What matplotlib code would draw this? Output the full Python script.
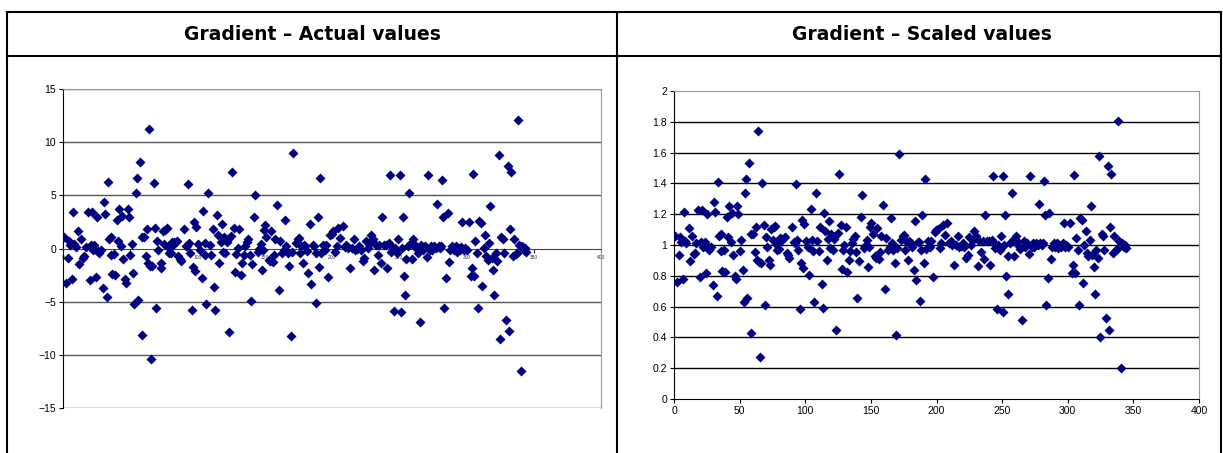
import matplotlib.pyplot as plt
from matplotlib.lines import Line2D
from matplotlib.ticker import FormatStrFormatter

# point positions (index along the sequence)
xs = [0.5, 2.5, 3.6, 4.3, 5.0, 6.6, 7.4, 8.1, 9.4, 11.2, 12.2, 13.5, 15.0, 15.7, 17.0, 18.3, 19.8, 20.8, 21.6, 22.3,
      23.4, 24.6, 25.4, 25.9, 26.9, 27.9, 29.7, 30.5, 31.0, 32.5, 33.2, 34.0, 35.5, 36.0, 36.8, 37.8, 38.6, 40.1, 41.1, 41.9,
      43.1, 44.2, 44.9, 46.2, 47.0, 48.0, 49.0, 50.0, 51.3, 52.3, 53.0, 54.3, 55.1, 55.8, 57.4, 58.4, 58.9, 59.9, 61.4, 62.4,
      63.0, 64.0, 64.5, 65.7, 66.5, 67.3, 68.5, 69.3, 69.8, 70.6, 72.6, 73.1, 74.1, 75.1, 76.1, 77.2, 77.9, 78.7, 80.0, 80.7,
      81.7, 82.5, 84.8, 85.8, 86.8, 87.8, 90.1, 91.4, 92.4, 92.9, 93.9, 94.4, 95.7, 96.4, 97.4, 98.5, 99.0, 100.3, 102.0, 103.0,
      104.0, 105.3, 105.8, 106.6, 107.9, 109.0, 110.2, 111.2, 112.4, 113.2, 114.2, 115.0, 116.2, 117.3, 118.0, 118.8, 119.8, 120.8, 121.8, 122.8,
      123.6, 124.9, 125.9, 126.9, 127.7, 128.9, 129.9, 131.0, 132.0, 133.0, 134.3, 135.5, 136.5, 137.6, 138.8, 139.6, 140.6, 142.1, 143.1, 144.7,
      145.7, 146.9, 147.7, 148.7, 149.5, 150.3, 151.3, 152.8, 153.8, 154.8, 155.9, 156.9, 157.9, 158.9, 160.4, 161.7, 163.0, 164.2, 165.2, 166.0,
      167.0, 168.0, 169.3, 170.0, 171.3, 173.1, 174.4, 175.1, 176.1, 177.2, 178.2, 179.2, 180.2, 181.2, 182.5, 183.8, 184.5, 185.8, 186.8, 187.8,
      188.3, 189.3, 190.1, 190.9, 191.9, 193.4, 194.7, 195.9, 197.2, 198.5, 199.7, 201.0, 202.3, 203.6, 204.8, 206.1, 208.1, 209.4, 210.7, 212.0,
      213.2, 214.5, 216.2, 217.3, 218.8, 220.0, 221.3, 222.8, 223.9, 225.1, 226.4, 227.7, 228.9, 230.2, 231.5, 232.7, 234.0, 235.3, 236.5, 237.3,
      238.6, 239.8, 241.1, 242.1, 243.1, 244.2, 245.2, 246.2, 247.2, 248.2, 249.2, 250.3, 251.0, 251.8, 252.5, 253.3, 254.1, 254.8, 256.3, 257.4,
      258.4, 259.4, 260.4, 261.4, 262.4, 263.9, 265.2, 266.5, 267.8, 269.0, 270.3, 271.3, 272.6, 273.6, 274.6, 275.9, 277.2, 278.4, 279.2, 280.2,
      281.2, 282.0, 282.7, 283.5, 284.8, 286.0, 287.3, 288.1, 289.3, 290.4, 291.9, 292.9, 293.7, 295.0, 296.2, 297.0, 298.0, 299.0, 300.0, 302.0,
      303.0, 303.8, 304.8, 305.6, 306.6, 307.6, 308.6, 309.6, 310.7, 311.7, 312.7, 314.0, 314.7, 315.7, 316.7, 317.8, 318.8, 319.8, 320.8, 321.8,
      322.8, 323.9, 324.9, 325.9, 326.9, 327.9, 329.2, 330.5, 331.5, 332.5, 333.0, 334.3, 335.5, 336.5, 337.6, 338.6, 339.3, 340.6, 341.6, 342.6,
      343.5, 344.5]

actual = [1.1, -3.2, -0.9, 0.75, 0.3, -2.9, 3.4, 0.4, 0.15, 1.65, -1.5, 0.9, -0.85, -0.7, 0.15, 3.45, -3.0, 0.3, 3.45, -0.15,
          0.3, -2.65, 3.0, -0.2, -0.45, -0.15, -3.7, 4.4, 3.2, -4.6, 6.3, 0.85, 1.1, -0.6, -2.4, -0.5, -2.5, 2.7, 0.75, 3.75,
          0.25, 3.1, -0.95, -2.85, -3.2, 3.75, 3.0, -0.6, 0.45, -2.3, -5.2, 5.2, 6.6, -4.8, 8.1, -8.1, 1.1, 1.1, -0.7, 1.8,
          -1.4, 11.2, -1.6, -10.4, -1.65, 6.2, 1.95, -5.55, 0.75, -0.15, -1.4, -1.85, 1.6, 0.45, 1.75, 1.9, 0.1, -0.45, -0.4, 0.65,
          0.35, 0.6, 0.75, -0.7, -0.95, -1.2, 1.8, 0.25, 0.2, 6.1, 0.5, -0.45, -5.8, -1.7, 2.45, -2.15, 2.0, 0.4, -0.15, -2.75,
          3.55, 0.5, -0.6, -5.2, 5.2, 0.35, -0.6, 1.8, -3.6, -5.75, 3.15, 1.3, -1.4, 0.6, 2.35, -0.3, 1.05, -0.45, 0.6, 0.85,
          -7.85, 1.15, 7.2, 1.95, -2.2, -0.5, 0.05, 1.8, -2.5, -1.4, -0.6, 0.2, 0.6, 0.85, -0.6, -4.9, -1.5, 3.0, 5.0, -0.3,
          -0.05, 0.45, -2.05, -0.15, 1.75, 2.2, 1.05, -1.05, -1.2, 1.65, -1.3, -0.65, 0.85, 4.1, -3.9, 0.7, -0.45, -0.15, 2.65, 0.2,
          -0.45, -1.65, -8.2, -0.3, 9.0, 0.5, 0.85, 0.95, -0.45, 0.25, -1.4, 0.35, 0.2, -0.2, -2.3, 2.3, -3.3, 0.3, 0.25, -5.1,
          -0.45, 2.95, -1.7, 6.6, -0.4, 0.35, -0.15, 0.35, -2.7, 1.25, 1.4, 1.6, -0.3, 0.2, 1.95, 1.0, 2.15, 0.15, 0.35, 0.05,
          -1.85, 0.05, 0.85, -0.15, -0.05, 0.2, -0.15, -1.2, -0.9, 0.75, 0.05, 0.45, 1.3, 0.85, -2.0, 0.35, -0.65, 0.35, -1.35, 2.95,
          0.35, 0.35, -1.85, 0.5, 6.9, -0.3, 0.05, -5.9, 0.05, -0.45, 0.85, 6.9, -6.0, 0.05, 3.0, -2.6, -4.4, -1.0, 0.2, 5.2,
          0.5, -1.0, 0.85, 0.35, 0.05, -0.4, -6.9, 0.35, -0.15, 0.2, -0.8, 6.9, -0.15, 0.2, -0.15, 0.2, 0.05, 4.2, 0.2, 0.05,
          0.2, 6.4, 2.95, -5.6, -2.8, 3.3, -1.3, -0.15, 0.2, -0.15, 0.2, -0.3, 0.05, -0.15, 0.15, 2.5, -0.15, 0.05, -0.15, 2.5,
          -2.55, -1.8, 7.0, -2.55, 0.7, -0.45, -5.6, 2.6, 2.4, -3.5, 0.05, 1.3, -0.75, -1.05, 0.5, 4.0, -0.9, -2.05, -4.4, -0.45,
          -1.2, 8.8, -8.5, 1.1, 0.85, -0.45, -6.7, 7.8, -7.8, 1.8, 7.2, -0.75, 0.85, -0.5, -0.4, 12.1, 0.35, -11.5, 0.2, -0.15,
          0.05, -0.3]

scaled = [1.06, 0.76, 0.935, 1.05, 1.02, 0.78, 1.215, 1.024, 1.01, 1.11, 0.895, 1.06, 0.94, 0.95, 1.01, 1.23, 0.79, 1.02, 1.23, 0.99,
          1.02, 0.815, 1.2, 0.987, 0.97, 0.99, 0.74, 1.28, 1.215, 0.67, 1.406, 1.056, 1.073, 0.96, 0.83, 0.966, 0.824, 1.18, 1.05, 1.25,
          1.017, 1.206, 0.933, 0.80, 0.776, 1.25, 1.2, 0.96, 1.03, 0.84, 0.63, 1.335, 1.43, 0.656, 1.535, 0.43, 1.073, 1.073, 0.953, 1.118,
          0.90, 1.742, 0.89, 0.27, 0.884, 1.40, 1.13, 0.61, 1.05, 0.99, 0.90, 0.87, 1.107, 1.03, 1.116, 1.125, 1.006, 0.97, 0.974, 1.043,
          1.024, 1.04, 1.05, 0.95, 0.933, 0.916, 1.12, 1.017, 1.013, 1.396, 1.034, 0.97, 0.583, 0.88, 1.163, 0.85, 1.135, 1.028, 0.99, 0.806,
          1.237, 1.034, 0.96, 0.63, 1.335, 1.024, 0.96, 1.12, 0.748, 0.59, 1.21, 1.088, 0.90, 1.04, 1.157, 0.98, 1.07, 0.97, 1.04, 1.056,
          0.45, 1.077, 1.46, 1.13, 0.847, 0.966, 1.002, 1.12, 0.824, 0.90, 0.96, 1.013, 1.04, 1.056, 0.957, 0.656, 0.897, 1.18, 1.323, 0.978,
          0.996, 1.03, 0.856, 0.99, 1.116, 1.146, 1.07, 0.927, 0.916, 1.11, 0.91, 0.955, 1.056, 1.26, 0.716, 1.045, 0.97, 0.99, 1.178, 1.013,
          0.97, 0.884, 0.415, 0.98, 1.594, 1.034, 1.056, 1.062, 0.97, 1.017, 0.90, 1.024, 1.013, 0.987, 0.84, 1.155, 0.77, 1.02, 1.017, 0.634,
          0.97, 1.196, 0.88, 1.428, 0.974, 1.024, 0.99, 1.024, 0.79, 1.082, 1.095, 1.105, 0.98, 1.013, 1.13, 1.067, 1.142, 1.01, 1.024, 1.002,
          0.87, 1.002, 1.056, 0.99, 0.996, 1.013, 0.99, 0.916, 0.938, 1.05, 1.002, 1.03, 1.088, 1.056, 0.862, 1.024, 0.955, 1.024, 0.907, 1.196,
          1.024, 1.024, 0.87, 1.034, 1.447, 0.98, 1.002, 0.583, 1.002, 0.97, 1.056, 1.447, 0.566, 1.002, 1.196, 0.80, 0.684, 0.93, 1.013, 1.335,
          1.034, 0.93, 1.056, 1.024, 1.002, 0.974, 0.512, 1.024, 0.99, 1.013, 0.944, 1.447, 0.99, 1.013, 0.99, 1.013, 1.002, 1.265, 1.013, 1.002,
          1.013, 1.415, 1.196, 0.61, 0.783, 1.206, 0.91, 0.99, 1.013, 0.99, 1.013, 0.98, 1.002, 0.99, 1.01, 1.142, 0.99, 1.002, 0.99, 1.142,
          0.82, 0.873, 1.454, 0.82, 1.045, 0.97, 0.61, 1.174, 1.16, 0.755, 1.002, 1.088, 0.948, 0.927, 1.034, 1.25, 0.938, 0.856, 0.684, 0.97,
          0.916, 1.578, 0.40, 1.073, 1.056, 0.97, 0.523, 1.514, 0.45, 1.12, 1.46, 0.948, 1.056, 0.966, 0.974, 1.806, 1.024, 0.20, 1.013, 0.99,
          1.002, 0.978]

titles = ["Gradient \u2013 Actual values", "Gradient \u2013 Scaled values"]
navy = "#000080"
W, H = 1223, 453

fig = plt.figure(figsize=(W / 100, H / 100), dpi=100)


def px(x0, y0, x1, y1):
    # pixel box (top-left origin) -> figure fraction rect
    return [x0 / W, 1 - y1 / H, (x1 - x0) / W, (y1 - y0) / H]


# table frame
frame = dict(color="black", lw=1.5, transform=fig.transFigure)
for x in (7, 617, 1221):
    fig.add_artist(Line2D([x / W, x / W], [0, 1 - 12 / H], **frame))
for y in (12, 56):
    fig.add_artist(Line2D([7 / W, 1221 / W], [1 - y / H, 1 - y / H], **frame))
fig.text(312 / W, 1 - 35 / H, titles[0], ha="center", va="center",
         fontsize=13.5, fontweight="bold", family="DejaVu Sans")
fig.text(922 / W, 1 - 35 / H, titles[1], ha="center", va="center",
         fontsize=13.5, fontweight="bold", family="DejaVu Sans")

tick_font = "Liberation Sans"

# left chart: actual values
ax1 = fig.add_axes(px(63, 89, 601, 408))
ax1.scatter(xs, actual, marker="D", s=26, color=navy, linewidths=0, zorder=3)
ax1.set_xlim(0, 400)
ax1.set_ylim(-15, 15)
ax1.set_yticks([-15, -10, -5, 0, 5, 10, 15])
for v in (-15, -10, -5, 5, 10, 15):
    ax1.axhline(v, color="#555555", lw=1, zorder=1)
ax1.spines["bottom"].set_position(("data", 0))
ax1.spines["bottom"].set_color("#444444")
ax1.spines["left"].set_color("black")
for s in ("top", "right"):
    ax1.spines[s].set_color("#999999")
ax1.set_xticks(range(0, 401, 50))
ax1.tick_params(axis="x", direction="out", length=3, labelsize=3.5, pad=1.5, colors="#333333")
ax1.tick_params(axis="y", direction="out", length=3, labelsize=7.5, pad=2)
for lab in ax1.get_xticklabels() + ax1.get_yticklabels():
    lab.set_family(tick_font)

# right chart: scaled values
ax2 = fig.add_axes(px(674, 91, 1199, 399))
ax2.scatter(xs, scaled, marker="D", s=26, color=navy, linewidths=0, zorder=3)
ax2.set_xlim(0, 400)
ax2.set_ylim(0, 2)
ax2.set_yticks([i / 5 for i in range(11)])
ax2.yaxis.set_major_formatter(FormatStrFormatter("%g"))
for i in range(1, 10):
    ax2.axhline(i / 5, color="black", lw=1, zorder=1)
for s in ("top", "right"):
    ax2.spines[s].set_color("#999999")
ax2.set_xticks(range(0, 401, 50))
ax2.tick_params(axis="both", direction="out", length=3, labelsize=7.5, pad=2)
for lab in ax2.get_xticklabels() + ax2.get_yticklabels():
    lab.set_family(tick_font)

fig.savefig("out.png", dpi=100)
